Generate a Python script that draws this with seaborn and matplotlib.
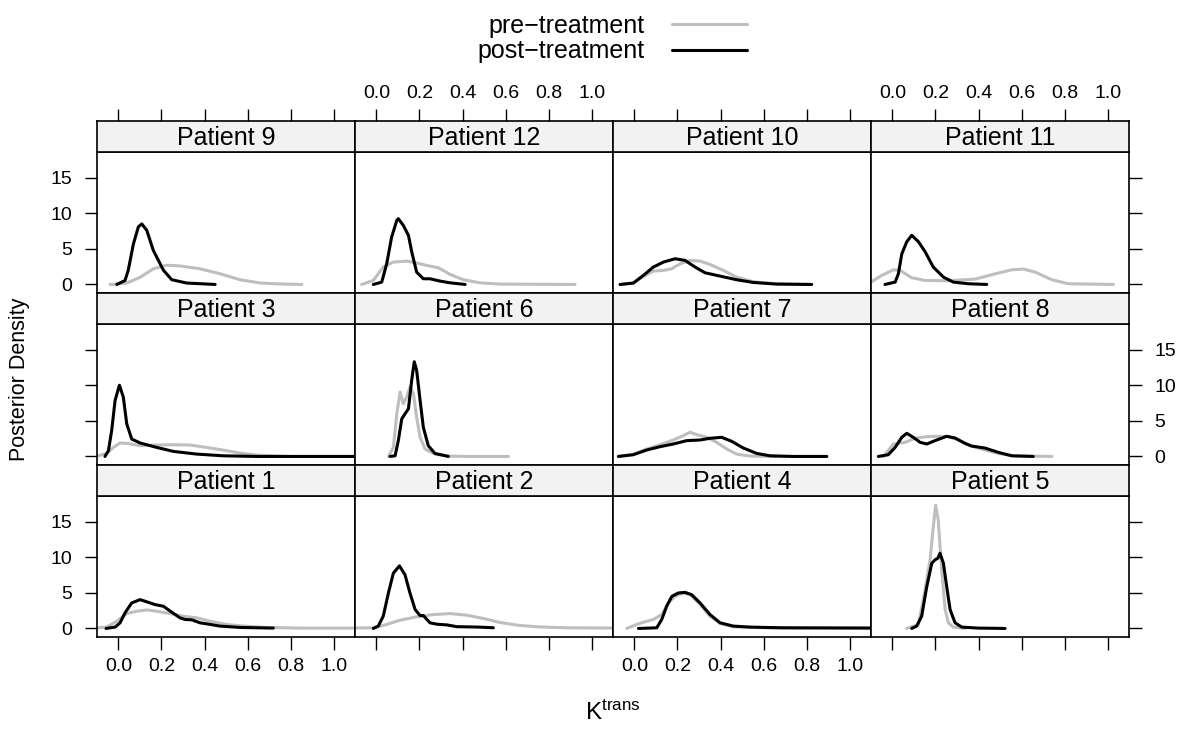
import matplotlib
matplotlib.use("Agg")
import matplotlib.pyplot as plt
import seaborn as sns
import pandas as pd
from matplotlib.lines import Line2D

# panel order, lattice style (top row first)
panel_patients = [9, 12, 10, 11, 3, 6, 7, 8, 1, 2, 4, 5]

# densities: K^trans values and posterior density
pre_9_x = [-0.038, 0.039, 0.101, 0.162, 0.224, 0.286, 0.379, 0.472, 0.565, 0.658, 0.766, 0.851]
pre_9_y = [0.0, 0.2, 1.0, 2.2, 2.7, 2.6, 2.2, 1.5, 0.66, 0.2, 0.05, 0.0]
post_9_x = [-0.007, 0.031, 0.046, 0.070, 0.093, 0.109, 0.132, 0.162, 0.209, 0.248, 0.317, 0.449]
post_9_y = [0.0, 0.56, 2.0, 5.7, 8.1, 8.5, 7.6, 4.8, 2.0, 0.66, 0.2, 0.0]

pre_12_x = [-0.068, -0.014, 0.032, 0.079, 0.141, 0.187, 0.234, 0.288, 0.342, 0.404, 0.481, 0.574, 0.922]
pre_12_y = [0.0, 0.56, 2.44, 3.14, 3.28, 3.0, 2.67, 2.34, 1.41, 0.66, 0.23, 0.05, 0.0]
post_12_x = [-0.014, 0.025, 0.048, 0.071, 0.095, 0.102, 0.125, 0.149, 0.164, 0.187, 0.218, 0.249, 0.296, 0.342, 0.412]
post_12_y = [0.0, 0.33, 2.9, 6.66, 9.0, 9.24, 8.3, 6.9, 4.6, 1.73, 0.8, 0.8, 0.47, 0.23, 0.0]

pre_10_x = [-0.066, -0.005, 0.042, 0.088, 0.135, 0.173, 0.212, 0.259, 0.305, 0.351, 0.413, 0.475, 0.552, 0.661, 0.823]
pre_10_y = [0.0, 0.19, 1.13, 1.88, 1.97, 2.2, 2.9, 3.38, 3.28, 2.81, 1.97, 1.03, 0.38, 0.1, 0.0]
post_10_x = [-0.066, -0.005, 0.042, 0.088, 0.135, 0.189, 0.235, 0.282, 0.328, 0.398, 0.475, 0.552, 0.661, 0.823]
post_10_y = [0.0, 0.19, 1.27, 2.44, 3.14, 3.61, 3.38, 2.44, 1.64, 1.17, 0.66, 0.28, 0.05, 0.0]

pre_11_x = [-0.13, -0.099, -0.049, 0.005, 0.036, 0.090, 0.152, 0.260, 0.384, 0.492, 0.554, 0.608, 0.662, 0.740, 0.817, 1.026]
pre_11_y = [0.0, 0.33, 1.27, 2.06, 1.97, 0.94, 0.56, 0.52, 0.75, 1.6, 2.06, 2.16, 1.74, 0.66, 0.1, 0.0]
post_11_x = [-0.034, 0.013, 0.028, 0.044, 0.067, 0.090, 0.121, 0.152, 0.190, 0.237, 0.283, 0.353, 0.438]
post_11_y = [0.0, 0.33, 1.5, 4.3, 6.0, 6.9, 6.0, 4.6, 2.44, 1.03, 0.33, 0.1, 0.0]

pre_3_x = [-0.13, -0.099, -0.054, -0.023, 0.008, 0.039, 0.101, 0.178, 0.255, 0.333, 0.410, 0.487, 0.565, 0.642, 0.797, 1.15]
pre_3_y = [0.0, 0.05, 0.42, 1.27, 1.89, 1.84, 1.51, 1.6, 1.65, 1.6, 1.27, 0.89, 0.47, 0.19, 0.0, 0.0]
post_3_x = [-0.062, -0.046, -0.031, -0.015, 0.005, 0.023, 0.039, 0.062, 0.101, 0.178, 0.255, 0.364, 0.487, 0.642, 1.15]
post_3_y = [0.0, 0.8, 3.63, 7.88, 10.0, 8.35, 4.58, 2.45, 1.89, 1.27, 0.71, 0.33, 0.09, 0.0, 0.0]

pre_6_x = [0.056, 0.079, 0.095, 0.110, 0.125, 0.141, 0.156, 0.172, 0.187, 0.203, 0.226, 0.272, 0.342, 0.419, 0.613]
pre_6_y = [0.0, 1.27, 5.99, 9.06, 7.4, 8.35, 9.76, 8.82, 5.52, 2.69, 1.04, 0.33, 0.05, 0.0, 0.0]
post_6_x = [0.064, 0.087, 0.102, 0.118, 0.133, 0.149, 0.164, 0.176, 0.187, 0.203, 0.218, 0.241, 0.272, 0.334]
post_6_y = [0.0, 0.09, 2.22, 5.28, 5.99, 6.7, 10.7, 13.3, 12.1, 7.88, 4.1, 1.51, 0.42, 0.0]

pre_7_x = [-0.074, -0.005, 0.057, 0.119, 0.181, 0.220, 0.259, 0.289, 0.336, 0.382, 0.429, 0.475, 0.537, 0.661, 0.877]
pre_7_y = [0.0, 0.33, 1.04, 1.65, 2.31, 2.83, 3.4, 3.07, 2.69, 1.98, 1.04, 0.33, 0.05, 0.0, 0.0]
post_7_x = [-0.074, -0.005, 0.057, 0.119, 0.181, 0.243, 0.305, 0.351, 0.405, 0.452, 0.506, 0.568, 0.630, 0.738, 0.893]
post_7_y = [0.0, 0.24, 0.9, 1.37, 1.75, 2.22, 2.31, 2.55, 2.69, 2.12, 1.18, 0.42, 0.09, 0.0, 0.0]

pre_8_x = [-0.042, -0.026, 0.005, 0.059, 0.105, 0.160, 0.214, 0.260, 0.306, 0.360, 0.430, 0.492, 0.569, 0.740]
pre_8_y = [0.0, 0.57, 1.75, 1.98, 2.55, 2.78, 2.83, 2.78, 2.31, 1.51, 0.9, 0.42, 0.09, 0.0]
post_8_x = [-0.065, -0.019, 0.013, 0.044, 0.067, 0.097, 0.129, 0.160, 0.198, 0.252, 0.291, 0.337, 0.368, 0.430, 0.492, 0.554, 0.654]
post_8_y = [0.0, 0.24, 1.27, 2.69, 3.25, 2.69, 1.98, 1.75, 2.22, 2.83, 2.59, 1.84, 1.46, 1.18, 0.57, 0.09, 0.0]

pre_1_x = [-0.13, -0.054, -0.007, 0.039, 0.085, 0.132, 0.178, 0.240, 0.302, 0.364, 0.426, 0.503, 0.580, 0.689, 0.843, 1.15]
pre_1_y = [0.0, 0.19, 1.02, 2.09, 2.42, 2.6, 2.42, 2.09, 1.72, 1.49, 1.02, 0.56, 0.33, 0.14, 0.05, 0.05]
post_1_x = [-0.057, -0.015, 0.008, 0.031, 0.062, 0.101, 0.139, 0.170, 0.209, 0.248, 0.286, 0.310, 0.341, 0.379, 0.410, 0.472, 0.565, 0.719]
post_1_y = [0.0, 0.19, 0.79, 2.19, 3.58, 4.05, 3.67, 3.35, 3.12, 2.28, 1.49, 1.26, 1.21, 0.79, 0.65, 0.33, 0.14, 0.05]

pre_2_x = [-0.13, -0.014, 0.048, 0.110, 0.187, 0.265, 0.342, 0.419, 0.497, 0.574, 0.651, 0.744, 0.883, 1.15]
pre_2_y = [0.05, 0.09, 0.56, 1.16, 1.63, 1.95, 2.09, 1.86, 1.4, 0.84, 0.47, 0.23, 0.09, 0.05]
post_2_x = [-0.014, 0.009, 0.032, 0.056, 0.079, 0.107, 0.133, 0.156, 0.180, 0.203, 0.218, 0.249, 0.280, 0.327, 0.373, 0.466, 0.543]
post_2_y = [0.0, 0.33, 1.72, 4.98, 7.77, 8.79, 7.53, 4.98, 2.65, 1.81, 1.81, 0.79, 0.6, 0.5, 0.25, 0.2, 0.1]

pre_4_x = [-0.035, 0.011, 0.042, 0.088, 0.127, 0.158, 0.189, 0.227, 0.259, 0.305, 0.351, 0.398, 0.459, 0.614, 1.15]
pre_4_y = [0.0, 0.56, 0.88, 1.26, 1.95, 3.58, 4.51, 4.98, 4.74, 3.35, 1.72, 0.7, 0.23, 0.09, 0.05]
post_4_x = [0.019, 0.104, 0.127, 0.150, 0.174, 0.204, 0.235, 0.266, 0.305, 0.351, 0.398, 0.459, 0.537, 0.691, 1.15]
post_4_y = [0.0, 0.09, 1.26, 3.12, 4.51, 4.98, 5.07, 4.74, 3.58, 1.95, 0.79, 0.33, 0.19, 0.09, 0.05]

pre_5_x = [0.067, 0.121, 0.152, 0.175, 0.190, 0.201, 0.213, 0.229, 0.245, 0.260, 0.283, 0.337]
pre_5_y = [0.0, 0.56, 5.44, 9.63, 14.28, 17.3, 15.2, 8.23, 2.65, 0.79, 0.19, 0.0]
post_5_x = [0.090, 0.113, 0.136, 0.160, 0.183, 0.198, 0.211, 0.221, 0.237, 0.252, 0.268, 0.291, 0.322, 0.399, 0.523]
post_5_y = [0.0, 0.33, 1.72, 5.91, 9.16, 9.63, 9.86, 10.56, 9.16, 5.91, 2.65, 0.79, 0.19, 0.05, 0.0]

x_ticks = [0.0, 0.2, 0.4, 0.6, 0.8, 1.0]
y_ticks = [0, 5, 10, 15]
group_labels = ["pre\u2212treatment", "post\u2212treatment"]

GREY = "#bebebe"
STRIP = "#f2f2f2"

# build one long table
rows = []
for p in panel_patients:
    for grp in ("pre", "post"):
        xs = globals()[f"{grp}_{p}_x"]
        ys = globals()[f"{grp}_{p}_y"]
        for xv, yv in zip(xs, ys):
            rows.append({"patient": p, "group": grp, "ktrans": xv, "density": yv})
df = pd.DataFrame(rows)

sns.set_theme(style="white")
plt.rcParams["font.family"] = ["Liberation Sans", "DejaVu Sans"]
plt.rcParams["mathtext.fontset"] = "custom"
plt.rcParams["mathtext.rm"] = "Liberation Sans"
plt.rcParams["text.color"] = "black"
plt.rcParams["lines.solid_joinstyle"] = "round"
plt.rcParams["lines.solid_capstyle"] = "round"

W, H = 1192, 729
fig = plt.figure(figsize=(W / 100, H / 100), dpi=100)

col_left = [97, 355, 613, 871]
col_w = 258
row_top = [121, 293, 465]
strip_h = 31
panel_h = 141

xlim = (-0.099, 1.098)
ylim = (-1.2, 18.6)

for i, p in enumerate(panel_patients):
    r, c = divmod(i, 4)
    x0 = col_left[c] / W
    w = col_w / W
    panel_bottom = 1 - (row_top[r] + strip_h + panel_h) / H
    ax = fig.add_axes([x0, panel_bottom, w, panel_h / H])
    sax = fig.add_axes([x0, 1 - (row_top[r] + strip_h) / H, w, strip_h / H], sharex=ax)

    sub = df[df.patient == p]
    sns.lineplot(data=sub, x="ktrans", y="density", hue="group",
                 hue_order=["pre", "post"], palette={"pre": GREY, "post": "black"},
                 estimator=None, sort=False, legend=False, linewidth=2.2, ax=ax)
    ax.set_xlim(*xlim)
    ax.set_ylim(*ylim)
    ax.set_xticks(x_ticks)
    ax.set_yticks(y_ticks)
    ax.set_xticklabels([f"{t:.1f}" for t in x_ticks])
    ax.set_xlabel("")
    ax.set_ylabel("")
    for a in (ax, sax):
        for s in a.spines.values():
            s.set_color("black")
            s.set_linewidth(1.2)

    ax.tick_params(direction="out", length=9, width=1, color="black",
                   labelsize=14, labelcolor="black")
    ax.tick_params(axis="x", pad=6,
                   bottom=(r == 2), labelbottom=(r == 2 and c in (0, 2)),
                   top=False, labeltop=False)
    ax.tick_params(axis="y", pad=9,
                   left=(c == 0), labelleft=(c == 0 and r in (0, 2)),
                   right=(c == 3), labelright=(c == 3 and r == 1))

    sax.set_facecolor(STRIP)
    sax.set_ylim(0, 1)
    sax.set_yticks([])
    sax.tick_params(axis="x", direction="out", length=9, width=1, color="black",
                    labelsize=14, labelcolor="black", pad=5,
                    bottom=False, labelbottom=False,
                    top=(r == 0), labeltop=(r == 0 and c in (1, 3)))
    sax.text(0.5, 0.45, f"Patient {p}", transform=sax.transAxes,
             ha="center", va="center", fontsize=18, color="black")

fig.text(20 / W, 1 - 379 / H, "Posterior Density", rotation=90,
         ha="center", va="center", fontsize=15.5, color="black")
fig.text(613 / W, 1 - 720 / H, r"$\mathregular{K^{trans}}$",
         ha="center", va="baseline", fontsize=17.5, color="black")

handles = [Line2D([], [], color=GREY, lw=2.2), Line2D([], [], color="black", lw=2.2)]
leg = fig.legend(handles, group_labels, loc="upper left",
                 bbox_to_anchor=(477 / W, 1 - 14 / H), frameon=False, markerfirst=False,
                 fontsize=18, handlelength=3.0, handletextpad=1.1, labelspacing=0.05,
                 borderpad=0, borderaxespad=0)
for t in leg.get_texts():
    t.set_color("black")

fig.savefig("out.png", dpi=100)
